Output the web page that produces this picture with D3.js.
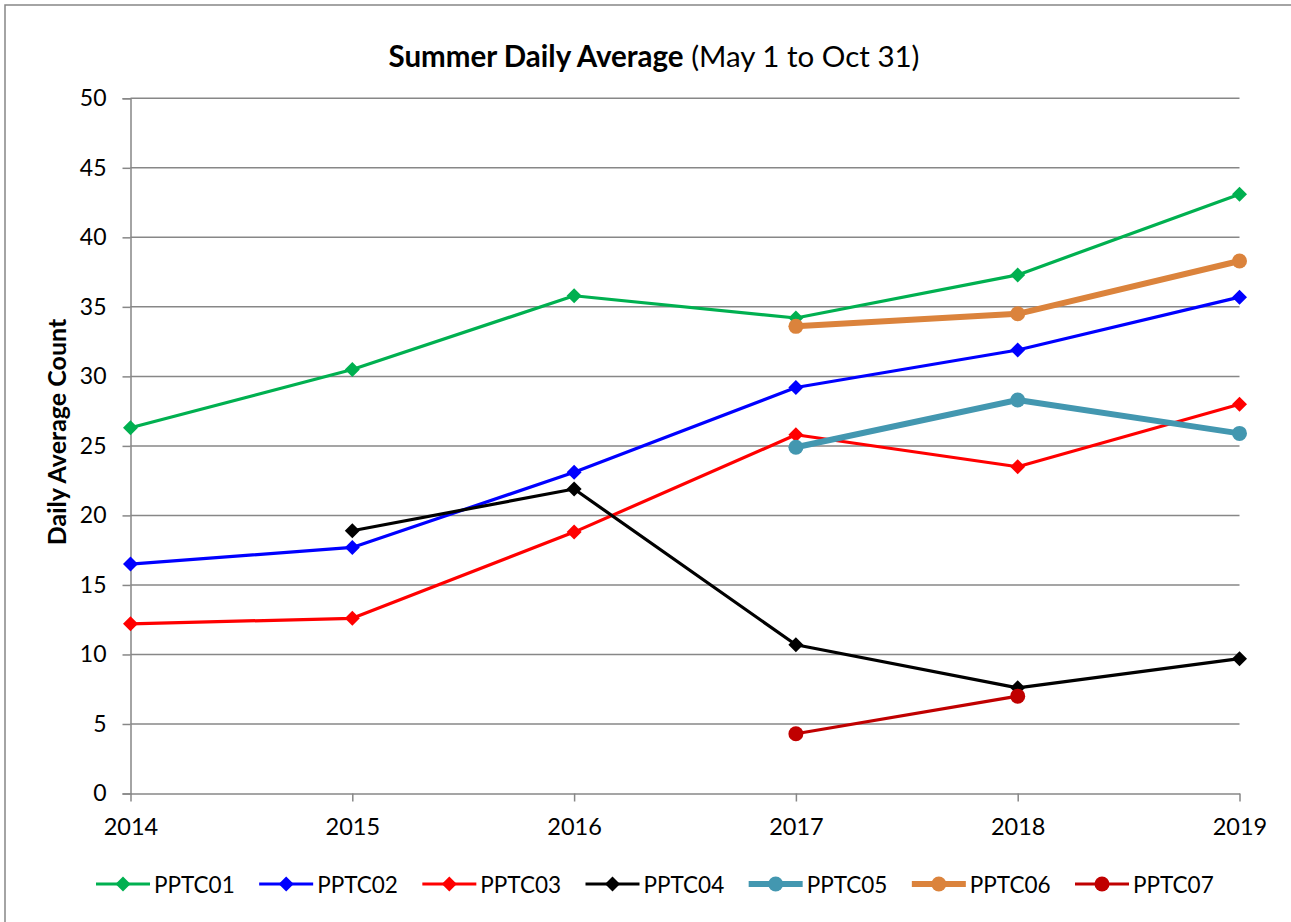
<!DOCTYPE html>
<html><head><meta charset="utf-8">
<script src="https://cdn.jsdelivr.net/npm/d3@7"></script>
<style>body{margin:0;background:#fff;} svg{display:block;font-family:Lato, "Open Sans", sans-serif;}</style>
</head><body><svg id="c" width="1291" height="922"></svg>
<script>
const years = [2014, 2015, 2016, 2017, 2018, 2019];
const yTicks = [0, 5, 10, 15, 20, 25, 30, 35, 40, 45, 50];
const seriesNames = ["PPTC01","PPTC02","PPTC03","PPTC04","PPTC05","PPTC06","PPTC07"];
const PPTC01 = [26.3, 30.5, 35.8, 34.2, 37.3, 43.1];
const PPTC02 = [16.5, 17.7, 23.1, 29.2, 31.9, 35.7];
const PPTC03 = [12.2, 12.6, 18.8, 25.8, 23.5, 28.0];
const PPTC04 = [null, 18.9, 21.9, 10.7, 7.6, 9.7];
const PPTC05 = [null, null, null, 24.9, 28.3, 25.9];
const PPTC06 = [null, null, null, 33.6, 34.5, 38.3];
const PPTC07 = [null, null, null, 4.3, 7.0, null];
const colors = ["#00B050","#0000FF","#FF0000","#000000","#4397B0","#DB833C","#C00000"];
const markers = ["diamond","diamond","diamond","diamond","circle","circle","circle"];
const widths = [3.2,3.2,3.2,3.2,6,6,3.2];

const values = [PPTC01,PPTC02,PPTC03,PPTC04,PPTC05,PPTC06,PPTC07];
const svg = d3.select("#c");
svg.append("rect").attr("x",5).attr("y",5).attr("width",1300).attr("height",930)
  .attr("fill","#fff").attr("stroke","#868686").attr("stroke-width",1.5);

const x = d3.scalePoint().domain(years).range([130.5, 1239.5]);
const y = d3.scaleLinear().domain([0,50]).range([793.5, 98.3]);

// gridlines
svg.append("g").selectAll("line").data(yTicks.slice(1)).join("line")
  .attr("x1",130.5).attr("x2",1239.5).attr("y1",d=>y(d)).attr("y2",d=>y(d))
  .attr("stroke","#878787").attr("stroke-width",1.5);

// y axis
const ya = svg.append("g").attr("transform","translate(130.5,0)")
  .call(d3.axisLeft(y).tickValues(yTicks).tickSize(8).tickPadding(16));
ya.select(".domain").attr("stroke","#878787").attr("stroke-width",1.5);
ya.selectAll(".tick line").attr("stroke","#878787").attr("stroke-width",1.5);
ya.selectAll("text").attr("font-size",23).attr("fill","#000").attr("font-family","Lato");

// x axis
const xa = svg.append("g").attr("transform","translate(0,793.5)")
  .call(d3.axisBottom(x).tickFormat(d3.format("d")).tickSize(8).tickPadding(17).tickSizeOuter(0));
xa.select(".domain").attr("stroke","#878787").attr("stroke-width",1.5);
xa.selectAll(".tick line").attr("stroke","#878787").attr("stroke-width",1.5);
xa.selectAll("text").attr("font-size",23.5).attr("fill","#000").attr("font-family","Lato");

// title
const t = svg.append("text").attr("x",654).attr("y",67).attr("text-anchor","middle")
  .attr("font-size",29.5).attr("fill","#000");
t.append("tspan").attr("font-weight","bold").text("Summer Daily Average");
t.append("tspan").text(" (May 1 to Oct 31)");

// y label
svg.append("text").attr("transform","translate(65.5,432) rotate(-90)").attr("text-anchor","middle")
  .attr("font-size",25).attr("font-weight","bold").attr("fill","#000").text("Daily Average Count");

function drawMarker(g, type, cx, cy, col, r) {
  if (type === "diamond") {
    const s = 7.5;
    g.append("path").attr("d",`M${cx},${cy-s}L${cx+s},${cy}L${cx},${cy+s}L${cx-s},${cy}Z`).attr("fill",col);
  } else {
    g.append("circle").attr("cx",cx).attr("cy",cy).attr("r",r).attr("fill",col);
  }
}

const line = d3.line().defined(d=>d.v!=null).x(d=>x(d.year)).y(d=>y(d.v));
values.forEach((vals,i)=>{
  const g = svg.append("g");
  const pts = years.map((yr,j)=>({year:yr, v:vals[j]}));
  g.append("path").datum(pts).attr("d",line).attr("fill","none").attr("stroke",colors[i])
    .attr("stroke-width",widths[i]).attr("stroke-linejoin","round");
  pts.filter(p=>p.v!=null).forEach(p=>drawMarker(g, markers[i], x(p.year), y(p.v), colors[i], 7.5));
});

// legend
const legX = d3.scalePoint().domain(seriesNames).range([96, 1075]);
const lg = svg.append("g");
seriesNames.forEach((n,i)=>{
  const x0 = legX(n), ly = 884;
  lg.append("line").attr("x1",x0).attr("x2",x0+54).attr("y1",ly).attr("y2",ly)
    .attr("stroke",colors[i]).attr("stroke-width",widths[i]);
  drawMarker(lg, markers[i], x0+27, ly, colors[i], 7.5);
  lg.append("text").attr("x",x0+58).attr("y",ly+8.5).attr("font-size",22.5).attr("fill","#000").text(n);
});
</script></body></html>
